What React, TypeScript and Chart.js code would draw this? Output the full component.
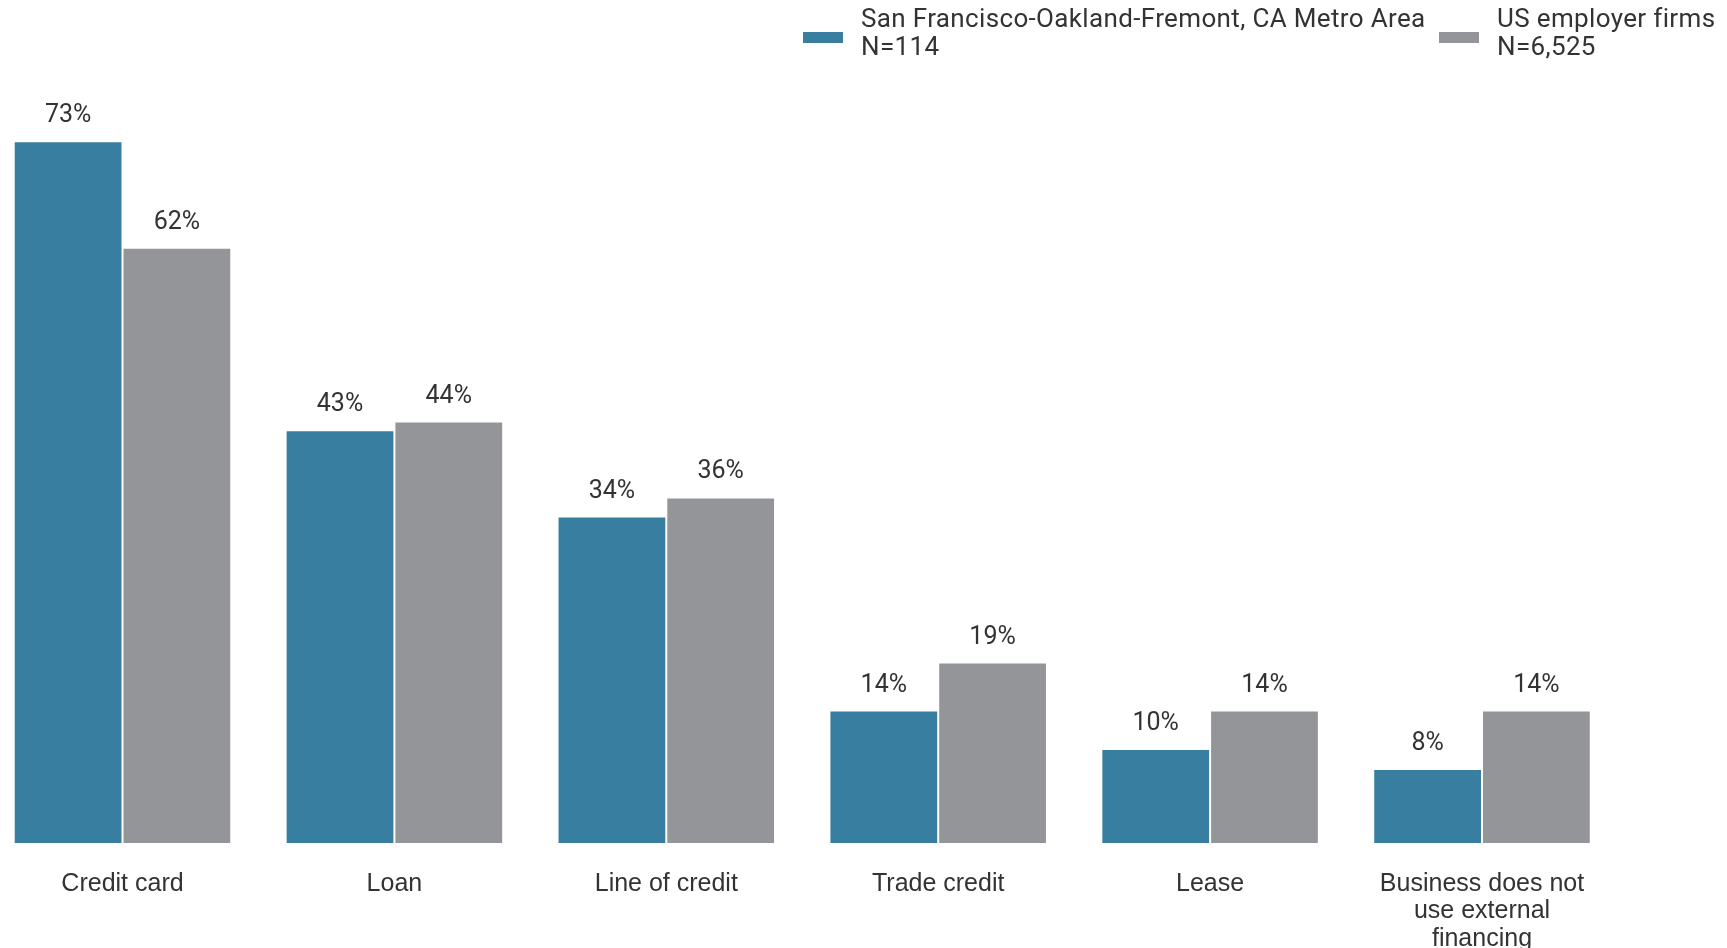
import React, { useEffect, useRef } from "react";
import { Chart, registerables } from "chart.js";

Chart.register(...registerables);

const categories: (string | string[])[] = [
  "Credit card",
  "Loan",
  "Line of credit",
  "Trade credit",
  "Lease",
  ["Business does not", "use external", "financing"],
];
const sfValues = [73.1, 43.0, 34.0, 13.8, 9.8, 7.7];
const usValues = [62.0, 43.9, 36.0, 18.8, 13.8, 13.8];
const seriesNames = [
  ["San Francisco-Oakland-Fremont, CA Metro Area", "N=114"],
  ["US employer firms", "N=6,525"],
];
const seriesColors = ["#377ea0", "#949599"];

const TEXT = "#333333";

const valueLabels = {
  id: "valueLabels",
  afterDatasetsDraw(chart: any) {
    const ctx = chart.ctx;
    ctx.save();
    ctx.font = "25px Roboto";
    ctx.fillStyle = TEXT;
    ctx.textAlign = "center";
    ctx.textBaseline = "alphabetic";
    chart.data.datasets.forEach((ds: any, di: number) => {
      const meta = chart.getDatasetMeta(di);
      meta.data.forEach((el: any, i: number) => {
        const v = ds.data[i];
        ctx.fillText(Math.round(v) + "%", el.x, el.y - 19);
      });
    });
    ctx.restore();
  },
};

const customLegend = {
  id: "customLegend",
  afterDraw(chart: any) {
    const ctx = chart.ctx;
    ctx.save();
    const items = [
      { sx: 803, tx: 861 },
      { sx: 1439, tx: 1497 },
    ];
    items.forEach((it, i) => {
      ctx.fillStyle = seriesColors[i];
      ctx.fillRect(it.sx, 32, 40, 11);
      ctx.fillStyle = TEXT;
      ctx.font = "26px Roboto";
      try {
        (ctx as any).letterSpacing = "0.35px";
      } catch (e) {}
      ctx.textAlign = "left";
      ctx.textBaseline = "alphabetic";
      ctx.fillText(seriesNames[i][0], it.tx, 27);
      ctx.fillText(seriesNames[i][1], it.tx, 55);
    });
    ctx.restore();
  },
};

export default function App() {
  const canvasRef = useRef<HTMLCanvasElement | null>(null);

  useEffect(() => {
    document.body.style.margin = "0";
    document.body.style.overflow = "hidden";
    const canvas = canvasRef.current;
    if (!canvas) return;
    const chart = new Chart(canvas, {
      type: "bar",
      data: {
        labels: categories,
        datasets: [
          {
            label: seriesNames[0].join(" "),
            data: sfValues,
            backgroundColor: seriesColors[0],
            borderColor: "#ffffff",
            borderWidth: 1,
            clip: false as any,
          },
          {
            label: seriesNames[1].join(" "),
            data: usValues,
            backgroundColor: seriesColors[1],
            borderColor: "#ffffff",
            borderWidth: 1,
            clip: false as any,
          },
        ],
      },
      options: {
        animation: false,
        responsive: true,
        maintainAspectRatio: false,
        datasets: {
          bar: {
            categoryPercentage: 0.8,
            barPercentage: 1,
          },
        },
        layout: {
          padding: { left: 122.5, right: 245, top: 75, bottom: 0 },
        },
        plugins: {
          legend: { display: false },
          tooltip: { enabled: false },
        },
        scales: {
          x: {
            offset: false,
            grid: { display: false },
            border: { display: false },
            ticks: {
              color: TEXT,
              font: { family: "'Liberation Sans', Arial, sans-serif", size: 25, lineHeight: "27.5px" } as any,
              padding: 19,
              maxRotation: 0,
              autoSkip: false,
            },
            afterFit: (scale: any) => {
              scale.height = 105;
            },
          },
          y: {
            display: false,
            min: 0,
            max: 80,
          },
        },
      },
      plugins: [valueLabels, customLegend],
    });
    return () => chart.destroy();
  }, []);

  return (
    <div style={{ position: "relative", width: "1727px", height: "948px", background: "#ffffff" }}>
      <canvas ref={canvasRef} />
    </div>
  );
}
